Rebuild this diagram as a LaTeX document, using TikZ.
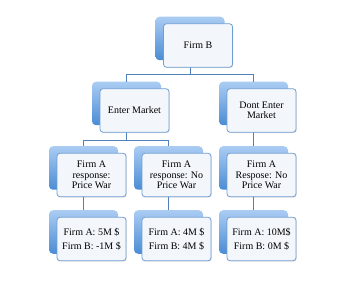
\documentclass[tikz,border=0pt]{standalone}
\usepackage{fontspec}
\setmainfont{Liberation Serif}
\usetikzlibrary{shadows,calc}
\definecolor{lineblue}{RGB}{79,129,189}
\definecolor{bktop}{RGB}{170,204,243}
\definecolor{bkbot}{RGB}{74,140,212}
\definecolor{frfill}{RGB}{243,247,252}
\definecolor{frborder}{RGB}{111,158,210}
\tikzset{
  backbox/.style={rectangle, rounded corners=4pt, minimum width=69pt, minimum height=43.5pt,
    top color=bktop, bottom color=bkbot, draw=none, inner sep=0pt},
  frontbox/.style={rectangle, rounded corners=3pt, minimum width=69pt, minimum height=43.5pt,
    fill=frfill, draw=frborder, line width=0.8pt, align=center, inner sep=1pt,
    font=\fontsize{10}{10.5}\selectfont,
    drop shadow={shadow xshift=0.8pt, shadow yshift=-0.8pt, opacity=0.2}},
  conn/.style={draw=lineblue, line width=0.8pt}
}
\begin{document}
\begin{tikzpicture}[x=1pt,y=-1pt]
\useasboundingbox[fill=white] (0,0) rectangle (361,288);
% back boxes (layout positions)
\node[backbox] (fb) at (190,38.5) {};
\node[backbox] (em) at (126.5,103.5) {};
\node[backbox] (dm) at (253.5,103.5) {};
\node[backbox] (ra) at (83.5,168) {};
\node[backbox] (rb) at (168.5,168) {};
\node[backbox] (rc) at (253.5,168) {};
\node[backbox] (pa) at (83.5,232) {};
\node[backbox] (pb) at (168.5,232) {};
\node[backbox] (pc) at (253.5,232) {};
% connectors
\draw[conn] (fb.south) -- ++(0,14) -| (em.north);
\draw[conn] (fb.south) -- ++(0,14) -| (dm.north);
\draw[conn] (em.south) -- ++(0,15) -| (ra.north);
\draw[conn] (em.south) -- ++(0,15) -| (rb.north);
\draw[conn] (dm.south) -- (rc.north);
\draw[conn] (ra.south) -- (pa.north);
\draw[conn] (rb.south) -- (pb.north);
\draw[conn] (rc.south) -- (pc.north);
% front boxes
\node[frontbox] (tfb) at ($(fb)+(8,7)$) {Firm B};
\node[frontbox] (tem) at ($(em)+(8,7)$) {Enter Market};
\node[frontbox] (tdm) at ($(dm)+(8,7)$) {Dont Enter\\Market};
\node[frontbox] (tra) at ($(ra)+(8,7)$) {Firm A\\response:\\Price War};
\node[frontbox] (trb) at ($(rb)+(8,7)$) {Firm A\\response: No\\Price War};
\node[frontbox] (trc) at ($(rc)+(8,7)$) {Firm A\\Respose: No\\Price War};
\node[frontbox] (tpa) at ($(pa)+(8,7)$) {Firm A: 5M \$\\[3.5pt]Firm B: -1M \$};
\node[frontbox] (tpb) at ($(pb)+(8,7)$) {Firm A: 4M \$\\[3.5pt]Firm B: 4M \$};
\node[frontbox] (tpc) at ($(pc)+(8,7)$) {Firm A: 10M\$\\[3.5pt]Firm B: 0M \$};
\end{tikzpicture}
\end{document}
